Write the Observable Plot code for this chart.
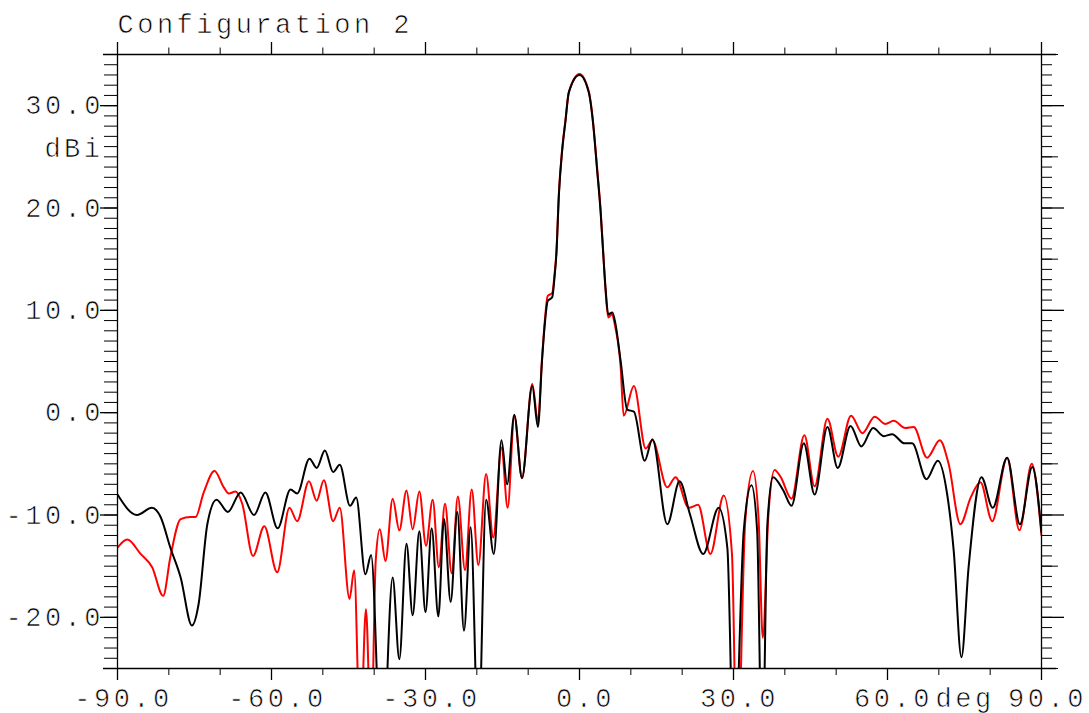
<!DOCTYPE html>
<html>
<head>
<meta charset="utf-8">
<script src="https://cdn.jsdelivr.net/npm/d3@7"></script>
<script src="https://cdn.jsdelivr.net/npm/@observablehq/plot@0.6"></script>
<style>
  html, body { margin: 0; padding: 0; background: #fff; }
  #chart svg text { stroke: #fff; stroke-width: 0.7px; paint-order: normal; }
</style>
</head>
<body>
<div id="chart"></div>
<script>
// ---- data (angle in deg, gain in dBi) ----
const blackAngle = [-90, -86.2, -83.3, -81.6, -79.7, -77.7, -75.5, -74.2, -72.5, -70.7, -68.5, -66.0, -63.4, -61.2, -58.8, -56.3, -55.0, -52.6, -51.2, -49.6, -48.0, -46.7, -44.7, -43.5, -41.7, -40.6, -38.5, -36.4, -35.1, -33.7, -32.5, -31.2, -30.0, -28.8, -27.5, -26.4, -25.1, -23.8, -22.5, -21.2, -19.7, -18.2, -16.7, -15.2, -14.1, -12.7, -11.2, -9.2, -8.1, -7.3, -6.75, -6.2, -5.3, -4.87, -4.5, -4.0, -3.38, -2.73, -2.08, 0, 1.8, 2.6, 3.45, 4.1, 4.55, 5.07, 5.6, 6.4, 7.0, 8.0, 9.3, 10.6, 12.7, 14.2, 17.1, 19.5, 21.5, 24.1, 27.1, 28.8, 30.1, 32.0, 33.5, 34.6, 35.6, 36.6, 37.7, 39.7, 41.3, 43.7, 45.8, 48.3, 50.3, 52.8, 54.9, 57.2, 59.3, 60.9, 63.3, 64.8, 67.6, 69.8, 71.6, 72.9, 74.4, 75.8, 78.3, 80.5, 83.3, 85.8, 88.2, 90];
const blackGain = [-8.0, -10.0, -9.3, -10.2, -13.2, -16.1, -20.8, -18.7, -10.9, -8.5, -9.7, -7.8, -10.0, -7.8, -11.3, -7.5, -7.9, -4.5, -5.4, -3.7, -5.8, -5.1, -9.1, -8.3, -15.8, -13.9, -35, -16.1, -24.1, -12.8, -19.8, -11.6, -19.5, -11.3, -19.9, -10.4, -18.5, -9.7, -21.3, -11.2, -32, -8.5, -13.8, -2.7, -7.0, -0.2, -6.4, 2.6, -1.4, 5.1, 8.7, 10.9, 11.3, 13.2, 15.5, 21.4, 25.6, 28.5, 31.3, 33.0, 31.3, 28.5, 23.6, 19.7, 16.1, 12.2, 9.6, 9.8, 8.7, 5.1, 0.3, 0.1, -4.7, -2.6, -10.9, -6.7, -9.9, -13.8, -9.3, -13.2, -35, -11.5, -7.1, -11.5, -35, -10.9, -6.3, -7.6, -9.1, -3.0, -8.0, -1.4, -5.4, -1.3, -3.3, -1.5, -2.3, -2.1, -3.0, -3.0, -6.5, -4.7, -7.9, -13.5, -23.9, -15.1, -6.3, -9.3, -4.4, -10.9, -5.3, -11.7];

const redAngle = [-90, -88.1, -85.5, -83.25, -81.1, -79.7, -77.7, -75.8, -74.8, -73.2, -71.1, -69.3, -68.3, -67.0, -65.7, -63.6, -61.4, -58.9, -56.5, -55.0, -52.7, -51.2, -49.8, -48.0, -46.7, -44.8, -43.9, -42.7, -41.6, -40.6, -39.7, -38.9, -37.8, -36.4, -35.1, -33.7, -32.5, -31.2, -29.9, -28.6, -27.4, -26.2, -24.9, -23.7, -22.3, -21.0, -19.7, -18.2, -16.8, -15.2, -14.0, -12.7, -11.2, -9.2, -8.1, -7.3, -6.75, -6.2, -5.3, -4.87, -4.5, -4.0, -3.38, -2.73, -2.08, 0, 1.8, 2.6, 3.45, 4.1, 4.55, 5.07, 5.6, 6.3, 7.0, 8.0, 8.6, 10.6, 12.9, 14.2, 17.1, 18.7, 21.3, 23.1, 25.5, 28.1, 29.7, 30.7, 32.3, 33.8, 34.9, 35.7, 36.8, 38.0, 39.2, 41.3, 43.8, 45.8, 48.3, 50.4, 52.9, 55.1, 57.5, 59.6, 61.2, 63.5, 65.1, 67.7, 70.2, 71.9, 74.2, 76.2, 78.1, 80.4, 83.3, 85.7, 88.1, 90];
const redGain = [-13.2, -12.4, -13.8, -15.1, -17.9, -14.1, -10.4, -10.2, -10.2, -7.8, -5.7, -7.3, -7.9, -7.7, -8.9, -14.0, -11.1, -15.6, -9.3, -10.6, -6.7, -8.6, -6.6, -10.6, -9.3, -18.2, -15.4, -32, -19.2, -32, -14.5, -11.4, -14.5, -8.4, -11.5, -7.6, -11.4, -7.7, -13.0, -8.5, -15.1, -8.9, -15.7, -8.2, -15.4, -7.5, -14.9, -6.0, -12.2, -3.4, -9.3, -0.4, -6.4, 2.8, -0.8, 5.3, 9.0, 11.4, 11.7, 13.5, 15.7, 21.6, 25.7, 28.6, 31.3, 33.1, 31.4, 28.6, 23.8, 19.9, 16.3, 12.0, 9.3, 9.6, 8.3, 4.6, -0.3, 2.6, -3.5, -2.7, -7.3, -6.3, -9.3, -9.0, -13.8, -8.1, -13.8, -35, -10.5, -5.7, -10.5, -22, -10.0, -5.6, -6.3, -8.4, -2.2, -7.2, -0.6, -4.3, -0.3, -2.0, -0.4, -1.1, -0.8, -1.5, -1.4, -4.4, -2.7, -5.0, -10.9, -8.3, -6.8, -10.6, -4.4, -11.5, -5.0, -12.0];

// ---- ticks and labels ----
const xMajorTicks = [-90, -60, -30, 0, 30, 60, 90];
const xMinorTicks = [-80, -70, -50, -40, -20, -10, 10, 20, 40, 50, 70, 80];
const xLabelTicks = [-90, -60, -30, 0, 30, 60, 90];
const xUnitTick = [60];
const xUnit = "deg";
const yLabelTicks = [-20, -10, 0, 10, 20, 30];
const yMinorTicks = d3.range(-25, 36, 1);
const yMidTicks = [-25, -15, -5, 5, 15, 25, 35];
const yUnitTick = [25];
const yUnit = "dBi";
const title = "Configuration 2";

const black = blackAngle.map((a, i) => ({angle: a, gain: blackGain[i]}));
const red = redAngle.map((a, i) => ({angle: a, gain: redGain[i]}));
const fmt = d => d.toFixed(1);

const chart = Plot.plot({
  width: 1089,
  height: 713,
  marginLeft: 117,
  marginRight: 48,
  marginTop: 54,
  marginBottom: 45,
  style: {fontFamily: "'Liberation Mono', monospace", fontSize: "27px", letterSpacing: "3.5px", color: "#000", background: "#fff"},
  x: {domain: [-90, 90], axis: null},
  y: {domain: [-25, 35], axis: null},
  marks: [
    // curves
    Plot.line(red, {x: "angle", y: "gain", stroke: "#ff0000", strokeWidth: 2, curve: "monotone-x", clip: true}),
    Plot.line(black, {x: "angle", y: "gain", stroke: "#000000", strokeWidth: 2, curve: "monotone-x", clip: true}),
    // frame
    Plot.ruleX([-90, 90], {stroke: "#000", strokeWidth: 1.3}),
    Plot.ruleY([-25, 35], {stroke: "#000", strokeWidth: 1.3, insetLeft: -14, insetRight: -15}),
    // bottom axis
    Plot.axisX({anchor: "bottom", ticks: xMajorTicks, tickSize: 12, tickFormat: () => "", label: null, strokeWidth: 1.3}),
    Plot.axisX({anchor: "bottom", ticks: xMinorTicks, tickSize: 7, tickFormat: () => "", label: null}),
    // top axis
    Plot.axisX({anchor: "top", ticks: xMajorTicks, tickSize: 13, tickFormat: () => "", label: null, strokeWidth: 1.3}),
    Plot.axisX({anchor: "top", ticks: xMinorTicks, tickSize: 7.5, tickFormat: () => "", label: null}),
    // left axis
    Plot.axisY({anchor: "left", ticks: yMinorTicks, tickSize: 13, tickFormat: () => "", label: null}),
    Plot.axisY({anchor: "left", ticks: yLabelTicks, tickSize: 17, tickPadding: -3.5, tickFormat: fmt, label: null, strokeWidth: 1.3}),
    // right axis
    Plot.axisY({anchor: "right", ticks: yMinorTicks, tickSize: 10, tickFormat: () => "", label: null}),
    Plot.axisY({anchor: "right", ticks: yMidTicks, tickSize: 16, tickFormat: () => "", label: null}),
    Plot.axisY({anchor: "right", ticks: yLabelTicks, tickSize: 22, tickFormat: () => "", label: null, strokeWidth: 1.3}),
    // x labels
    Plot.text(xLabelTicks, {x: d => d, frameAnchor: "bottom", lineAnchor: "bottom", textAnchor: "middle", dy: 38, dx: 6, text: fmt}),
    Plot.text(xUnitTick, {x: d => d, frameAnchor: "bottom", lineAnchor: "bottom", textAnchor: "start", dy: 38, dx: 48, text: () => xUnit}),
    // y unit
    Plot.text(yUnitTick, {y: d => d, frameAnchor: "left", lineAnchor: "bottom", textAnchor: "end", dx: -14, text: () => yUnit}),
    // title
    Plot.text([title], {frameAnchor: "top-left", lineAnchor: "bottom", textAnchor: "start", dy: -22, text: d => d})
  ]
});
document.getElementById("chart").appendChild(chart);
</script>
</body>
</html>
